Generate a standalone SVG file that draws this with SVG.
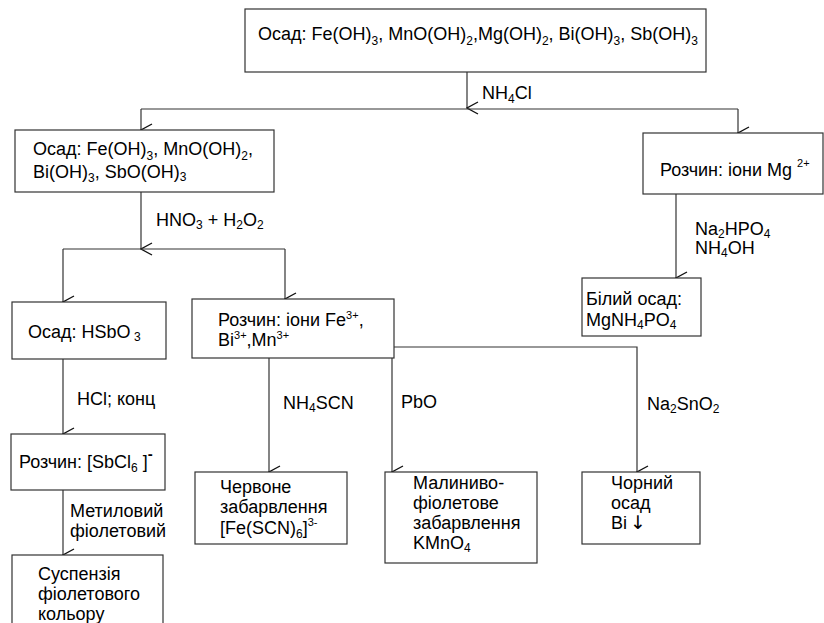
<svg xmlns="http://www.w3.org/2000/svg" width="824" height="623" viewBox="0 0 824 623">
<defs>
<style>
.box{fill:#fff;stroke:#333;stroke-width:1.2}
.ln{fill:none;stroke:#333;stroke-width:1.2}
text{font-family:"Liberation Sans",Arial,sans-serif;font-size:18px;fill:#000}
.s{font-size:12px}
.p{font-size:11px}
</style>
<marker id="arr" viewBox="0 0 14 14" refX="7" refY="13" markerWidth="14" markerHeight="14" markerUnits="userSpaceOnUse" orient="auto-start-reverse">
<path d="M1,2 L7,13 L13,2" fill="none" stroke="#111" stroke-width="1.4"/>
</marker>
</defs>

<g id="connectors">
<path class="ln" d="M467,72 V108" marker-end="url(#arr)"/>
<path class="ln" d="M141,109 H738"/>
<path class="ln" d="M141,109 V130" marker-end="url(#arr)"/>
<path class="ln" d="M738,109 V133" marker-end="url(#arr)"/>
<path class="ln" d="M141,192 V249" marker-end="url(#arr)"/>
<path class="ln" d="M63,249 H285"/>
<path class="ln" d="M63,249 V302" marker-end="url(#arr)"/>
<path class="ln" d="M285,249 V299" marker-end="url(#arr)"/>
<path class="ln" d="M676,194 V278" marker-end="url(#arr)"/>
<path class="ln" d="M63,359 V434" marker-end="url(#arr)"/>
<path class="ln" d="M63,490 V555" marker-end="url(#arr)"/>
<path class="ln" d="M269,358 V472" marker-end="url(#arr)"/>
<path class="ln" d="M392,358 V472" marker-end="url(#arr)"/>
<path class="ln" d="M394,347 H637 V472" marker-end="url(#arr)"/>
</g>

<g id="n-top">
<rect class="box" x="245" y="9" width="461" height="63"/>
<text x="258" y="40">Осад: Fe(OH)<tspan class="s" dy="5">3</tspan><tspan dy="-5">, MnO(OH)</tspan><tspan class="s" dy="5">2</tspan><tspan dy="-5">,Mg(OH)</tspan><tspan class="s" dy="5">2</tspan><tspan dy="-5">, Bi(OH)</tspan><tspan class="s" dy="5">3</tspan><tspan dy="-5">, Sb(OH)</tspan><tspan class="s" dy="5">3</tspan></text>
</g>

<g id="l-nh4cl"><text x="482" y="99">NH<tspan class="s" dy="4">4</tspan><tspan dy="-4">Cl</tspan></text></g>

<g id="n-precip2">
<rect class="box" x="15" y="130" width="259" height="62"/>
<text x="33" y="155">Осад: Fe(OH)<tspan class="s" dy="5">3</tspan><tspan dy="-5">, MnO(OH)</tspan><tspan class="s" dy="5">2</tspan><tspan dy="-5">,</tspan></text>
<text x="33" y="178">Bi(OH)<tspan class="s" dy="4">3</tspan><tspan dy="-4">, SbO(OH)</tspan><tspan class="s" dy="3">3</tspan></text>
</g>

<g id="n-mg">
<rect class="box" x="643" y="133" width="180" height="61"/>
<text x="660" y="176">Розчин: іони Mg <tspan class="p" dy="-9">2+</tspan></text>
</g>

<g id="l-na2hpo4">
<text x="695" y="235">Na<tspan class="s" dy="3">2</tspan><tspan dy="-3">HPO</tspan><tspan class="s" dy="3">4</tspan></text>
<text x="695" y="254">NH<tspan class="s" dy="3">4</tspan><tspan dy="-3">OH</tspan></text>
</g>

<g id="n-white">
<rect class="box" x="582" y="278" width="119" height="58"/>
<text x="586" y="305">Білий осад:</text>
<text x="586" y="326">MgNH<tspan class="s" dy="3">4</tspan><tspan dy="-3">PO</tspan><tspan class="s" dy="3">4</tspan></text>
</g>

<g id="l-hno3"><text x="156" y="226">HNO<tspan class="s" dy="3">3</tspan><tspan dy="-3"> + H</tspan><tspan class="s" dy="3">2</tspan><tspan dy="-3">O</tspan><tspan class="s" dy="3">2</tspan></text></g>

<g id="n-hsbo3">
<rect class="box" x="12" y="302" width="154" height="57"/>
<text x="28" y="338">Осад: HSbO<tspan class="s" dy="3"> 3</tspan></text>
</g>

<g id="n-fe">
<rect class="box" x="192" y="299" width="202" height="59"/>
<text x="218" y="326">Розчин: іони Fe<tspan class="p" dy="-7">3+</tspan><tspan dy="7">,</tspan></text>
<text x="218" y="346">Bi<tspan class="p" dy="-7">3+</tspan><tspan dy="7">,</tspan>Mn<tspan class="p" dy="-7">3+</tspan></text>
</g>

<g id="l-hcl"><text x="77" y="405">HCl; конц</text></g>
<g id="l-nh4scn"><text x="283" y="409">NH<tspan class="s" dy="3">4</tspan><tspan dy="-3">SCN</tspan></text></g>
<g id="l-pbo"><text x="401" y="408">PbO</text></g>
<g id="l-na2sno2"><text x="647" y="410">Na<tspan class="s" dy="3">2</tspan><tspan dy="-3">SnO</tspan><tspan class="s" dy="3">2</tspan></text></g>

<g id="n-sbcl6">
<rect class="box" x="11" y="434" width="154" height="56"/>
<text x="19" y="468">Розчин: [SbCl<tspan class="s" dy="4">6</tspan><tspan dy="-4"> ]</tspan><tspan dy="-9" font-size="15" font-weight="bold">-</tspan></text>
</g>

<g id="l-methyl">
<text x="70" y="517">Метиловий</text>
<text x="70" y="537">фіолетовий</text>
</g>

<g id="n-susp">
<rect class="box" x="12" y="555" width="151" height="80"/>
<text x="38" y="580">Суспензія</text>
<text x="38" y="600">фіолетового</text>
<text x="38" y="620">кольору</text>
</g>

<g id="n-red">
<rect class="box" x="195" y="472" width="152" height="72"/>
<text x="220" y="493">Червоне</text>
<text x="220" y="513">забарвлення</text>
<text x="220" y="534">[Fe(SCN)<tspan class="s" dy="4">6</tspan><tspan dy="-4">]</tspan><tspan class="p" dy="-8">3-</tspan></text>
</g>

<g id="n-kmno4">
<rect class="box" x="385" y="472" width="152" height="91"/>
<text x="413" y="489">Малиниво-</text>
<text x="413" y="509">фіолетове</text>
<text x="413" y="529">забарвлення</text>
<text x="413" y="549">KMnO<tspan class="s" dy="3">4</tspan></text>
</g>

<g id="n-black">
<rect class="box" x="582" y="472" width="118" height="72"/>
<text x="611" y="489">Чорний</text>
<text x="611" y="509">осад</text>
<text x="611" y="529">Bi<tspan x="630" font-family="'DejaVu Sans',sans-serif" font-size="19">↓&#xFE0E;</tspan></text>
</g>
</svg>
